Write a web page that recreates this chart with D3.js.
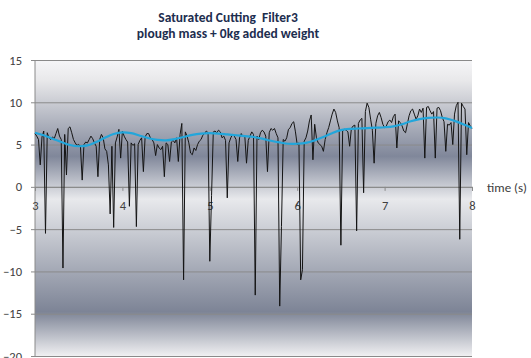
<!DOCTYPE html>
<html>
<head>
<meta charset="utf-8">
<script src="https://cdn.jsdelivr.net/npm/d3@7/dist/d3.min.js"></script>
<style>
  html, body { margin: 0; padding: 0; background: #ffffff; }
  svg { display: block; }
  text { font-family: Carlito, Lato, "Open Sans", sans-serif; }
</style>
</head>
<body>
<svg id="chart" width="531" height="358"></svg>
<script>
// Title lines
const titleLines = ["Saturated Cutting  Filter3", "plough mass + 0kg added weight"];
const xAxisTitle = "time (s)";

// Axis ticks
const xTicks = [3, 4, 5, 6, 7, 8];
const yTicks = [-20, -15, -10, -5, 0, 5, 10, 15];

// Raw filtered force trace, sampled every 0.02 s from 3 s
const sampleStart = 3;
const sampleStep = 0.02;
const forceValues = [
  6.3, 6.0, 5.6, 2.6, 5.9, 6.6, -5.5, 6.4, 5.8, 5.6,      // 3.0 s
  5.9, 5.7, 6.3, 6.9, 6.0, 5.6, -9.6, 6.2, 1.4, 6.9,      // 3.2 s
  7.1, 6.4, 5.6, 5.2, 4.9, 5.0, 4.8, 0.8, 5.0, 5.3,       // 3.4 s
  5.2, 5.6, 6.0, 5.7, 5.2, 4.8, 1.2, 5.6, 6.2, 5.8,       // 3.6 s
  4.5, 4.2, 2.6, -3.2, 4.8, -4.8, 5.2, 5.9, 6.8, 3.4,     // 3.8 s
  6.6, 6.0, 5.6, 5.3, -2.3, 5.2, 4.9, 5.1, -4.7, 5.0,     // 4.0 s
  5.5, 5.8, 1.8, 5.9, 6.3, 6.3, 5.8, 5.6, 5.2, 3.7,       // 4.2 s
  5.0, 4.6, 4.4, 4.8, 1.2, 5.2, 5.0, 3.0, 5.3, 5.5,       // 4.4 s
  5.2, 5.8, 3.0, 6.2, 7.5, -11.0, 6.5, 6.0, 5.2, 4.0,     // 4.6 s
  3.8, 4.6, 4.3, 5.0, 5.4, 5.6, 6.1, 6.3, 6.6, 6.4,       // 4.8 s
  -8.8, -1.0, 6.5, 6.6, 6.4, 6.7, 6.5, 5.8, 6.0, 5.5,     // 5.0 s
  -1.3, 5.2, 5.8, 6.2, 6.0, 5.6, 3.0, 5.8, 6.3, 5.9,      // 5.2 s
  6.1, 2.8, 5.5, 6.0, 6.5, 6.2, -12.8, 6.0, 5.6, 6.4,     // 5.4 s
  6.7, 6.5, 6.0, 1.8, 6.4, 6.9, 6.7, 6.9, 6.3, 5.8,       // 5.6 s
  -14.1, -4.7, 5.6, 5.4, 5.8, 6.8, 7.0, 7.5, 7.7, 6.5,    // 5.8 s
  5.0, 5.2, -11.0, -9.8, 5.4, 5.8, 6.6, 7.8, 8.5, 3.2,    // 6.0 s
  7.4, 5.8, 5.2, 5.0, 4.8, 4.2, 5.6, 6.4, 7.0, 7.8,       // 6.2 s
  8.6, 9.2, 8.8, 7.8, 7.0, -6.9, 6.6, 6.8, 6.7, 6.5,      // 6.4 s
  4.8, 6.9, 7.2, 7.3, -5.2, 7.5, 7.9, 8.1, -0.7, 8.9,     // 6.6 s
  9.9, 9.4, 8.0, 6.7, 2.8, 7.5, 8.4, 8.8, 8.2, 7.4,       // 6.8 s
  7.0, 7.2, 7.7, 7.9, 7.6, 8.3, 8.6, 4.6, 7.8, 7.6,       // 7.0 s
  7.2, 6.6, 6.4, 7.4, 8.4, 9.0, 9.2, 8.6, 8.0, 8.4,       // 7.2 s
  9.2, 8.8, 9.3, 3.4, 9.4, 9.5, 9.0, 8.6, 8.9, 3.4,       // 7.4 s
  9.3, 9.4, 9.0, 8.2, 7.7, 4.2, 7.4, 7.3, 7.6, 5.0,       // 7.6 s
  8.6, 9.6, 10.0, -6.2, 9.9, 9.5, 9.2, 3.8, 7.6, 7.2,     // 7.8 s
  6.9                                                     // 8.0 s
];

// Smoothed trend, every 0.1 s from 3 s
const trendStart = 3;
const trendStep = 0.1;
const trendValues = [
  6.4, 6.1, 5.7, 5.3, 4.95, 4.8, 4.9, 5.3, 5.8, 6.25,     // 3.0 s
  6.45, 6.35, 6.05, 5.75, 5.55, 5.5, 5.65, 5.9, 6.15, 6.3, // 4.0 s
  6.35, 6.3, 6.2, 6.1, 6.0, 5.9, 5.7, 5.45, 5.25, 5.1,    // 5.0 s
  5.1, 5.2, 5.5, 5.9, 6.35, 6.7, 6.85, 6.9, 6.95, 7.0,    // 6.0 s
  7.05, 7.15, 7.4, 7.75, 8.0, 8.15, 8.2, 8.1, 7.8, 7.4,   // 7.0 s
  6.95                                                    // 8.0 s
];

const svg = d3.select("#chart");
const plot = { left: 35, right: 472, top: 60, bottom: 356 };

const x = d3.scaleLinear().domain([3, 8]).range([plot.left, plot.right]);
const y = d3.scaleLinear().domain([-20, 15]).range([plot.bottom, plot.top]);

// Silver vertical gradient behind the plot area
const defs = svg.append("defs");
const grad = defs.append("linearGradient")
  .attr("id", "silver")
  .attr("x1", 0).attr("y1", 0).attr("x2", 0).attr("y2", 1);
[
  [0.00, "#f6f6f8"],
  [0.07, "#e8e8ea"],
  [0.325, "#80879a"],
  [0.47, "#e8e9ec"],
  [0.85, "#7d8496"],
  [1.00, "#f0f0f2"]
].forEach(([o, c]) => grad.append("stop").attr("offset", o).attr("stop-color", c));

svg.append("rect")
  .attr("x", plot.left).attr("y", plot.top)
  .attr("width", plot.right - plot.left)
  .attr("height", plot.bottom - plot.top)
  .attr("fill", "url(#silver)");

// Horizontal gridlines with outer ticks on the value axis
const yAxis = d3.axisLeft(y)
  .tickValues(yTicks)
  .tickSize(-(plot.right - plot.left))
  .tickPadding(13)
  .tickFormat(d3.format("d"));

const gy = svg.append("g")
  .attr("transform", `translate(${plot.left},0)`)
  .call(yAxis);
gy.select(".domain").remove();
gy.selectAll(".tick line")
  .attr("x1", -4)
  .attr("stroke", "#8a8a8a")
  .attr("stroke-width", 1);
gy.selectAll(".tick text")
  .attr("fill", "#404040")
  .style("font-size", "12.5px");

svg.append("line")
  .attr("x1", plot.left).attr("x2", plot.left)
  .attr("y1", plot.top).attr("y2", plot.bottom)
  .attr("stroke", "#8a8a8a");

// Time axis crossing at zero
const xAxis = d3.axisBottom(x)
  .tickValues(xTicks)
  .tickSize(4)
  .tickPadding(10)
  .tickFormat(d3.format("d"));

const gx = svg.append("g")
  .attr("transform", `translate(0,${y(0)})`)
  .call(xAxis);
gx.select(".domain").attr("stroke", "#8a8a8a");
gx.selectAll(".tick line").attr("stroke", "#8a8a8a");
gx.selectAll(".tick text")
  .attr("fill", "#404040")
  .style("font-size", "12.5px");

// Data series
const forceData = forceValues.map((v, i) => ({ t: sampleStart + i * sampleStep, v }));
const trendData = trendValues.map((v, i) => ({ t: trendStart + i * trendStep, v }));

const forceLine = d3.line().x(d => x(d.t)).y(d => y(d.v));
const trendLine = d3.line().x(d => x(d.t)).y(d => y(d.v)).curve(d3.curveCatmullRom);

svg.append("path")
  .datum(forceData)
  .attr("d", forceLine)
  .attr("fill", "none")
  .attr("stroke", "#141414")
  .attr("stroke-width", 1)
  .attr("stroke-linejoin", "round");

svg.append("path")
  .datum(trendData)
  .attr("d", trendLine)
  .attr("fill", "none")
  .attr("stroke", "#22a6db")
  .attr("stroke-width", 2.2);

// Titles
svg.append("g").selectAll("text")
  .data(titleLines)
  .join("text")
  .attr("x", 228)
  .attr("y", (d, i) => 22 + i * 16)
  .attr("text-anchor", "middle")
  .attr("fill", "#1d2e4f")
  .style("font-size", "13.5px")
  .style("font-weight", "bold")
  .style("white-space", "pre")
  .attr("xml:space", "preserve")
  .text(d => d);

svg.append("text")
  .attr("x", 487)
  .attr("y", y(0) + 5)
  .attr("fill", "#404040")
  .style("font-size", "13px")
  .text(xAxisTitle);
</script>
</body>
</html>
